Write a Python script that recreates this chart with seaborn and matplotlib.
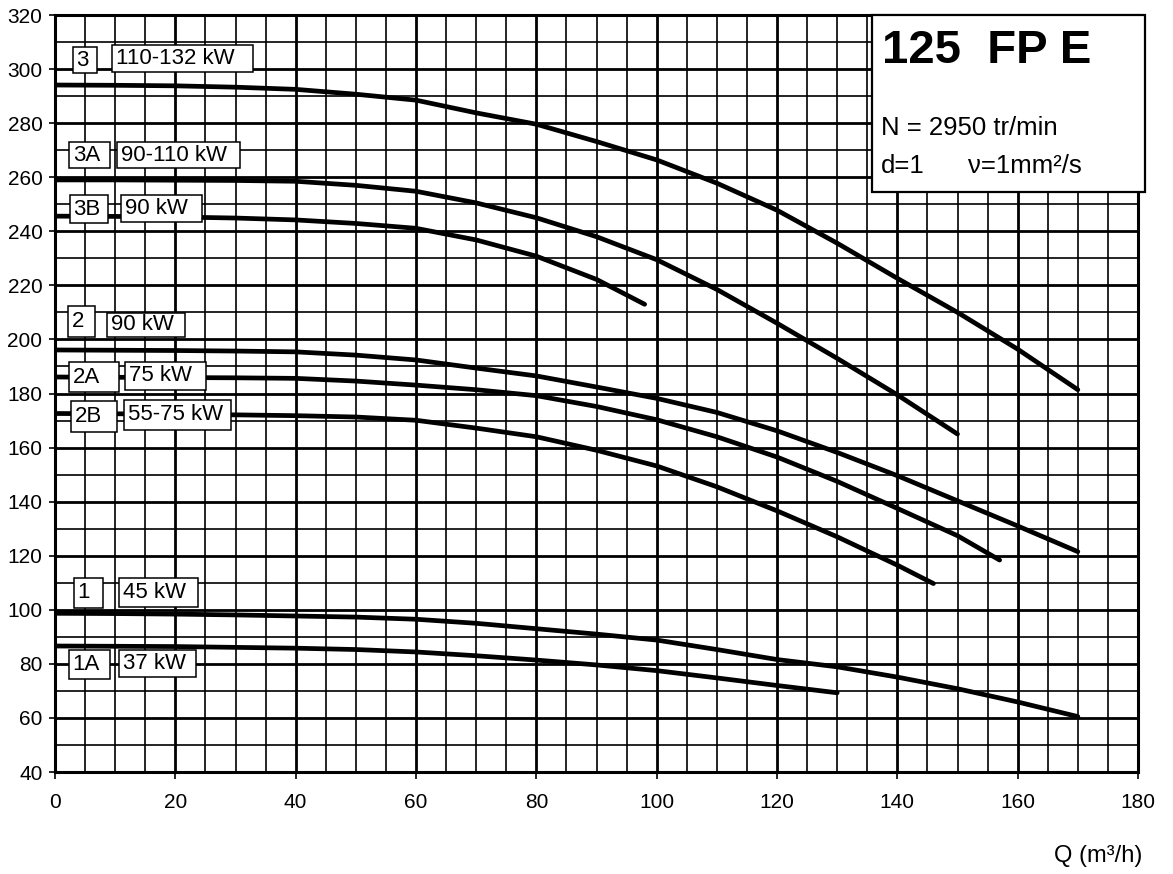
import matplotlib
matplotlib.use("Agg")
import matplotlib.pyplot as plt
from matplotlib.ticker import MultipleLocator
from matplotlib.patches import Rectangle
import seaborn as sns
import pandas as pd

# Pump head curves H(Q) for the 125 FP E series, one per impeller trim
q_3 = [0, 10, 20, 30, 40, 50, 60, 70, 80, 90, 100, 110, 120, 130, 140, 150, 160, 170]
h_3 = [294.1, 294.0, 293.8, 293.3, 292.5, 290.7, 288.5, 283.8, 279.6, 273.2, 266.4, 257.8, 247.8, 235.6, 222.6, 210.0, 196.4, 181.4]

q_3a = [0, 10, 20, 30, 40, 50, 60, 70, 80, 90, 100, 110, 120, 130, 140, 150]
h_3a = [259.0, 259.0, 258.9, 258.8, 258.5, 257.0, 254.8, 250.5, 245.0, 238.0, 229.5, 218.5, 206.0, 193.0, 179.5, 165.0]

q_3b = [0, 10, 20, 30, 40, 50, 60, 70, 80, 90, 98]
h_3b = [245.6, 245.5, 245.3, 244.9, 244.2, 242.9, 241.1, 236.8, 230.8, 222.2, 213.0]

q_2 = [0, 10, 20, 30, 40, 50, 60, 70, 80, 90, 100, 110, 120, 130, 140, 150, 160, 170]
h_2 = [196.1, 196.0, 195.9, 195.7, 195.4, 194.2, 192.4, 189.4, 186.5, 182.4, 178.2, 173.0, 166.2, 158.2, 149.6, 140.3, 131.0, 121.5]

q_2a = [0, 10, 20, 30, 40, 50, 60, 70, 80, 90, 100, 110, 120, 130, 140, 150, 157]
h_2a = [186.1, 186.0, 185.9, 185.8, 185.6, 184.6, 183.1, 181.4, 179.2, 175.2, 170.3, 164.0, 156.5, 147.5, 137.5, 127.4, 118.4]

q_2b = [0, 10, 20, 30, 40, 50, 60, 70, 80, 90, 100, 110, 120, 130, 140, 146]
h_2b = [172.6, 172.5, 172.3, 172.1, 171.8, 171.3, 170.1, 167.2, 164.0, 159.0, 153.2, 145.5, 136.6, 127.0, 116.5, 109.7]

q_1 = [0, 10, 20, 30, 40, 50, 60, 70, 80, 90, 100, 110, 120, 130, 140, 150, 160, 170]
h_1 = [98.7, 98.6, 98.4, 98.1, 97.7, 97.3, 96.5, 95.0, 93.0, 91.0, 88.8, 85.3, 81.6, 78.9, 75.1, 70.8, 65.9, 60.5]

q_1a = [0, 10, 20, 30, 40, 50, 60, 70, 80, 90, 100, 110, 120, 130]
h_1a = [86.6, 86.5, 86.4, 86.1, 85.8, 85.3, 84.4, 83.0, 81.4, 79.6, 77.5, 74.8, 72.0, 69.3]

curve_names = ["3", "3A", "3B", "2", "2A", "2B", "1", "1A"]
curve_q = [q_3, q_3a, q_3b, q_2, q_2a, q_2b, q_1, q_1a]
curve_h = [h_3, h_3a, h_3b, h_2, h_2a, h_2b, h_1, h_1a]

# Curve tags and motor powers
tag_text = ["3", "110-132 kW", "3A", "90-110 kW", "3B", "90 kW", "2", "90 kW",
            "2A", "75 kW", "2B", "55-75 kW", "1", "45 kW", "1A", "37 kW"]

x_ticks = [0, 20, 40, 60, 80, 100, 120, 140, 160, 180]
y_ticks = [40, 60, 80, 100, 120, 140, 160, 180, 200, 220, 240, 260, 280, 300, 320]

title = "125  FP E"
speed_text = "N = 2950 tr/min"
density_text = "d=1"
viscosity_text = "\u03bd=1mm\u00b2/s"
x_label = "Q (m\u00b3/h)"

# Tag box frames in data units: (left Q, bottom H, width Q, height H)
tag_boxes = [
    (2.99, 298.5, 3.99, 9.6), (9.48, 298.9, 23.44, 10.0),
    (2.33, 263.4, 6.82, 9.6), (10.31, 263.4, 20.45, 9.6),
    (2.49, 243.0, 6.32, 10.4), (10.97, 243.4, 13.47, 10.0),
    (2.16, 200.9, 4.49, 11.5), (8.65, 200.9, 12.97, 8.9),
    (2.33, 180.5, 8.31, 11.1), (11.64, 181.3, 13.47, 10.4),
    (2.66, 165.7, 7.65, 11.5), (11.47, 166.5, 17.79, 11.1),
    (3.16, 100.7, 4.82, 11.1), (10.64, 101.0, 13.13, 10.7),
    (2.33, 74.4, 6.82, 10.7), (10.64, 75.1, 12.80, 10.0),
]

rows = []
for name, qs, hs in zip(curve_names, curve_q, curve_h):
    for q, h in zip(qs, hs):
        rows.append({"curve": name, "Q": q, "H": h})
df = pd.DataFrame(rows)

sns.set_style("ticks")
plt.rcParams["font.family"] = ["Liberation Sans", "DejaVu Sans"]
plt.rcParams["text.color"] = "black"
plt.rcParams["xtick.color"] = "black"
plt.rcParams["ytick.color"] = "black"
plt.rcParams["axes.labelcolor"] = "black"

fig = plt.figure(figsize=(11.73, 8.74), dpi=100)
ax = fig.add_axes([55 / 1173, 1 - 772 / 874, (1138 - 55) / 1173, (772 - 15) / 874])

sns.lineplot(data=df, x="Q", y="H", hue="curve", palette=["black"] * len(curve_names),
             estimator=None, sort=True, legend=False, linewidth=3.4, ax=ax, zorder=3)

ax.set_xlim(0, 180)
ax.set_ylim(40, 320)
ax.set_xticks(x_ticks)
ax.set_yticks(y_ticks)
ax.set_xticklabels([str(t) for t in x_ticks])
ax.set_yticklabels([str(t) for t in y_ticks])
ax.xaxis.set_minor_locator(MultipleLocator(5))
ax.yaxis.set_minor_locator(MultipleLocator(10))
ax.grid(which="major", color="black", linewidth=2.0, zorder=1)
ax.grid(which="minor", color="black", linewidth=1.2, zorder=1)
ax.set_axisbelow(True)
ax.tick_params(axis="x", which="major", length=5, width=1.2, pad=10, labelsize=15, colors="black")
ax.tick_params(axis="y", which="major", length=4, width=1.2, pad=5, labelsize=15, colors="black")
ax.tick_params(which="minor", length=0)
ax.set_xlabel("")
ax.set_ylabel("")
for side in ["left", "bottom", "right", "top"]:
    ax.spines[side].set_visible(True)
    ax.spines[side].set_color("black")
    ax.spines[side].set_linewidth(2.2)

# Tag boxes sit on top of the curves
for text, (q0, h0, w, hh) in zip(tag_text, tag_boxes):
    ax.add_patch(Rectangle((q0, h0), w, hh, facecolor="white", edgecolor="black",
                           linewidth=1.1, zorder=5))
    ax.text(q0 + 0.6, h0 + hh / 2, text, ha="left", va="center", fontsize=16,
            color="black", zorder=6)

# Information panel in the upper right corner
ax.add_patch(Rectangle((135.8, 254.5), 45.4, 65.5, facecolor="white", edgecolor="black",
                       linewidth=1.6, clip_on=False, zorder=5))
ax.text(137.5, 302.2, title, ha="left", va="baseline", fontsize=34, fontweight="bold", zorder=6)
ax.text(137.3, 275.6, speed_text, ha="left", va="baseline", fontsize=18.5, zorder=6)
ax.text(137.3, 261.4, density_text, ha="left", va="baseline", fontsize=18.5, zorder=6)
ax.text(151.7, 261.4, viscosity_text, ha="left", va="baseline", fontsize=18.5, zorder=6)

fig.text(1142 / 1173, 1 - 856 / 874, x_label, ha="right", va="center", fontsize=17)

fig.savefig("out.png", dpi=100, facecolor="white")
